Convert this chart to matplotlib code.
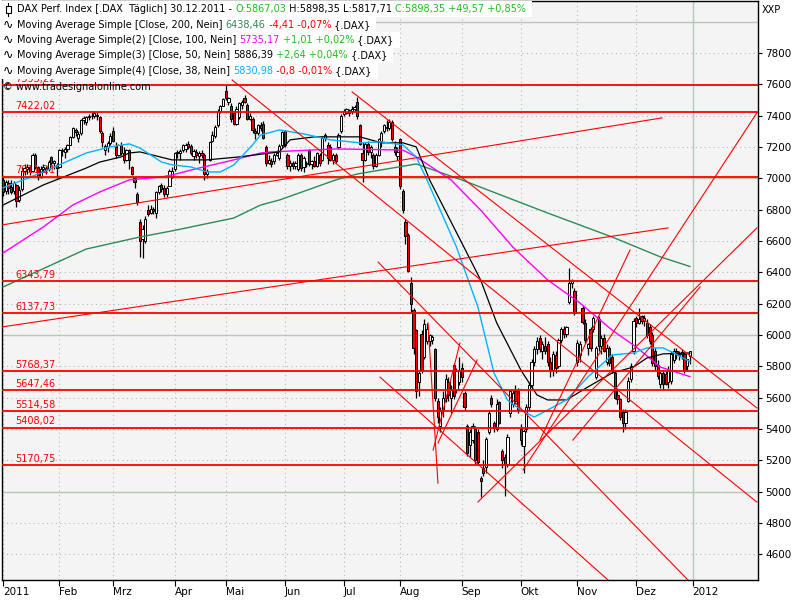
import numpy as np
import matplotlib
matplotlib.use("Agg")
import matplotlib.pyplot as plt
from matplotlib.patches import Rectangle
from matplotlib.lines import Line2D

# daily candles 2011 (open, high, low, close)
jan = [(6990,7010,6890,6915),(6920,6990,6900,6975),(6970,6990,6900,6940),(6945,6990,6900,6915),
       (6920,6985,6900,6970),(6960,6965,6820,6855),(6860,6950,6850,6925),(6930,7070,6920,7050),
       (7050,7090,7020,7065),(7060,7090,7030,7075),(7070,7085,7020,7040),(7045,7160,7040,7150),
       (7150,7160,7060,7075),(7070,7080,6990,7010),(7010,7080,7000,7060),(7060,7090,7040,7070),
       (7065,7080,7030,7055),(7060,7120,7050,7105),(7135,7145,7080,7095),(7100,7120,7060,7110),
       (7085,7100,7000,7065)]
feb = [(7070,7190,7065,7180),(7180,7195,7140,7175),(7170,7200,7130,7185),(7185,7220,7170,7215),
       (7215,7270,7210,7265),(7265,7330,7260,7320),(7310,7320,7270,7295),(7260,7300,7230,7285),
       (7290,7380,7280,7370),(7370,7400,7350,7385),(7360,7400,7340,7390),(7390,7410,7370,7400),
       (7400,7425,7380,7395),(7395,7428,7385,7415),(7405,7425,7370,7395),(7390,7395,7290,7300),
       (7290,7300,7200,7230),(7180,7220,7150,7205),(7200,7240,7170,7225),(7225,7290,7210,7272)]
mar = [(7300,7325,7230,7240),(7200,7230,7130,7150),(7150,7220,7140,7210),(7215,7230,7150,7165),
       (7160,7200,7100,7120),(7120,7190,7110,7180),(7180,7190,7060,7120),(7070,7080,7020,7030),
       (7000,7010,6940,6980),(6900,6910,6830,6850),(6720,6740,6500,6600),(6610,6700,6490,6680),
       (6600,6760,6590,6740),(6800,6830,6760,6775),(6780,6830,6770,6805),(6805,6815,6770,6790),
       (6780,6920,6750,6910),(6910,6960,6900,6950),(6960,6970,6910,6930),(6940,6960,6880,6900),
       (6900,6950,6880,6940),(6950,7060,6950,7050),(7010,7070,7000,7045)]
apr = [(7060,7170,7050,7160),(7160,7180,7130,7170),(7165,7185,7120,7175),(7180,7220,7170,7215),
       (7190,7225,7170,7210),(7220,7240,7190,7200),(7205,7220,7150,7165),(7140,7185,7120,7175),
       (7170,7190,7130,7150),(7140,7175,7100,7160),(7160,7180,7130,7150),(7150,7160,6990,7030),
       (7030,7060,7000,7050),(7120,7240,7110,7230),(7240,7300,7230,7280),(7270,7340,7260,7330),
       (7340,7440,7330,7430),(7430,7470,7420,7460),(7465,7515,7460,7505)]
may = [(7560,7593,7500,7515),(7490,7520,7470,7510),(7460,7480,7360,7380),(7420,7430,7340,7350),
       (7350,7460,7340,7440),(7390,7490,7380,7480),(7470,7500,7440,7490),(7510,7530,7480,7490),
       (7470,7480,7370,7380),(7380,7420,7370,7400),(7380,7390,7290,7310),(7300,7320,7250,7290),
       (7290,7350,7280,7340),(7340,7360,7300,7320),(7350,7365,7250,7260),(7200,7210,7080,7100),
       (7100,7150,7090,7120),(7110,7130,7070,7090),(7110,7160,7090,7150),(7150,7180,7140,7160),
       (7130,7220,7120,7205),(7210,7300,7200,7293)]
jun = [(7300,7310,7200,7215),(7150,7160,7060,7080),(7080,7120,7050,7100),(7100,7110,7060,7080),
       (7080,7110,7060,7095),(7060,7160,7050,7150),(7150,7160,7050,7065),(7070,7140,7040,7130),
       (7090,7110,7070,7100),(7180,7190,7080,7090),(7090,7120,7060,7110),(7110,7140,7070,7080),
       (7080,7170,7070,7160),(7150,7160,7080,7100),(7120,7270,7110,7260),(7260,7290,7240,7280),
       (7210,7230,7090,7130),(7200,7220,7110,7120),(7120,7160,7090,7150),(7150,7160,7100,7110),
       (7200,7290,7190,7280),(7300,7410,7290,7400)]
jul = [(7410,7440,7400,7430),(7420,7450,7410,7440),(7415,7445,7400,7435),(7430,7460,7410,7440),
       (7440,7470,7430,7455),(7490,7520,7380,7400),(7340,7350,7210,7220),(7160,7230,6980,7120),
       (7120,7230,7110,7220),(7220,7240,7150,7170),(7170,7210,7130,7200),(7150,7160,7060,7080),
       (7080,7160,7070,7150),(7150,7260,7140,7250),(7240,7300,7200,7290),(7300,7350,7290,7340),
       (7330,7370,7300,7320),(7320,7380,7310,7360),(7360,7370,7240,7250),(7200,7240,7150,7170),
       (7140,7200,7120,7170)]
aug = [(7250,7260,6930,6950),(6920,6930,6780,6800),(6720,6740,6580,6630),(6640,6650,6400,6410),
       (6330,6370,6150,6200),(6160,6170,5880,5920),(6030,6040,5600,5640),(5700,5780,5610,5760),
       (6010,6030,5760,5780),(5860,6100,5850,6070),(5960,6080,5940,6040),(5960,6010,5930,6000),
       (5970,6000,5940,5990),(5910,5920,5580,5600),(5580,5600,5440,5480),(5420,5540,5380,5520),
       (5520,5640,5480,5600),(5600,5750,5570,5720),(5700,5730,5580,5620),(5600,5680,5500,5650),
       (5810,5820,5590,5610),(5650,5790,5630,5770),(5700,5860,5680,5780)]
sep = [(5790,5820,5700,5730),(5630,5640,5520,5540),(5420,5430,5230,5250),(5300,5400,5220,5380),
       (5330,5440,5310,5420),(5400,5420,5180,5200),(5380,5400,5180,5190),(5090,5100,4966,5070),
       (5150,5200,5100,5120),(5160,5350,5120,5340),(5380,5520,5370,5500),(5600,5620,5540,5560),
       (5440,5450,5380,5410),(5400,5590,5390,5560),(5570,5580,5430,5440),(5260,5270,5150,5200),
       (5220,5240,4970,5180),(5180,5370,5160,5350),(5500,5650,5480,5640),(5560,5650,5540,5630),
       (5640,5680,5560,5580),(5640,5660,5500,5520)]
okt = [(5400,5430,5300,5330),(5290,5400,5120,5390),(5400,5560,5380,5540),(5540,5700,5520,5680),
       (5680,5850,5660,5830),(5830,5930,5800,5910),(5910,5990,5880,5960),(5980,6000,5890,5910),
       (5900,5960,5850,5940),(5930,5990,5880,5900),(5940,5960,5800,5830),(5830,5860,5730,5780),
       (5780,5900,5740,5880),(5870,5900,5760,5790),(5800,5980,5790,5970),(5970,6050,5950,6040),
       (6040,6060,5980,6010),(6010,6060,5990,6050),(6210,6430,6200,6330),(6330,6360,6300,6345),
       (6280,6300,6130,6140)]
nov = [(5830,5970,5800,5950),(5870,5960,5830,5940),(6170,6190,6070,6085),(6080,6100,5950,5970),
       (5920,5950,5870,5940),(6040,6050,5900,5920),(6040,6120,6020,6110),(5730,5930,5720,5920),
       (6100,6120,5900,5930),(5930,6000,5880,5980),(5980,6010,5890,5900),(5830,5940,5810,5920),
       (5920,5930,5800,5820),(5860,5880,5760,5780),(5760,5770,5590,5600),(5620,5660,5560,5590),
       (5590,5600,5460,5480),(5510,5530,5380,5440),(5440,5530,5400,5510),(5580,5730,5570,5710),
       (5720,5820,5700,5800),(5900,6110,5880,6090)]
dez = [(6110,6120,6050,6080),(6080,6170,6070,6100),(6120,6130,6070,6090),(6090,6130,6060,6110),
       (6080,6100,5980,6000),(6050,6070,5940,5960),(6000,6020,5800,5820),(5900,5920,5780,5800),
       (5810,5840,5720,5740),(5690,5770,5660,5760),(5760,5780,5650,5690),(5750,5770,5680,5690),
       (5700,5800,5660,5780),(5710,5900,5690,5880),(5840,5920,5820,5900),(5900,5920,5850,5870),
       (5870,5900,5840,5880),(5880,5910,5850,5890),(5880,5890,5760,5780),(5800,5850,5770,5850),
       (5867,5898,5818,5898)]

month_starts = [0, 21, 41, 64, 83, 105, 127, 148, 171, 193, 214, 236, 257]
month_labels = ["2011", "Feb", "Mrz", "Apr", "Mai", "Jun", "Jul", "Aug", "Sep", "Okt", "Nov", "Dez", "2012"]

# moving averages sampled off the chart (day index, value)
ma200_i = [0, 31, 51, 63, 86, 96, 103, 124, 132, 154, 171, 203, 227, 245, 256]
ma200_v = [6307, 6549, 6626, 6665, 6747, 6830, 6862, 6990, 7028, 7092, 6990, 6779, 6626, 6499, 6438]
ma100_i = [0, 15, 26, 36, 47, 59, 63, 73, 86, 96, 100, 124, 149, 154, 167, 178, 190, 203, 215, 227, 236, 245, 256]
ma100_v = [6524, 6690, 6830, 6913, 6990, 7009, 7022, 7066, 7118, 7162, 7169, 7188, 7181, 7137, 6990,
           6798, 6562, 6352, 6205, 6032, 5924, 5796, 5735]
ma50_i = [0, 15, 31, 36, 44, 47, 51, 63, 76, 88, 103, 107, 116, 133, 141, 149, 154, 159, 171, 178,
          184, 193, 199, 203, 210, 218, 227, 235, 240, 246, 256]
ma50_v = [6830, 6958, 7066, 7104, 7137, 7162, 7169, 7118, 7118, 7137, 7169, 7246, 7265, 7265, 7227,
          7227, 7201, 6990, 6588, 6352, 6078, 5777, 5618, 5586, 5586, 5669, 5758, 5796, 5854, 5880, 5886]
ma38_i = [0, 15, 31, 40, 47, 51, 59, 63, 70, 76, 81, 86, 93, 96, 103, 112, 122, 133, 141, 149, 154,
          158, 169, 177, 183, 188, 193, 198, 203, 210, 218, 225, 227, 235, 240, 246, 250, 256]
ma38_v = [6940, 7041, 7162, 7201, 7220, 7194, 7105, 7086, 7073, 7041, 7041, 7086, 7214, 7277, 7309,
          7284, 7246, 7227, 7233, 7214, 7137, 6990, 6562, 6179, 5758, 5586, 5522, 5477, 5522, 5586,
          5733, 5841, 5873, 5886, 5918, 5918, 5886, 5831]

# horizontal support / resistance levels
levels = [7593.22, 7422.02, 7011.21, 6343.79, 6137.73, 5768.37, 5647.46, 5514.58, 5408.02, 5170.75]

# trend lines (start day, start value, end day, end value)
trendlines = [
    (85.4, 7628, 281.0, 4934),
    (130.1, 7552, 281.0, 5535),
    (-0.4, 6703, 245.6, 7386),
    (-0.4, 6052, 247.9, 6684),
    (177.0, 4935, 281.0, 6684),
    (193.8, 5139, 281.0, 7418),
    (139.8, 6466, 255.3, 4437),
    (140.5, 5732, 225.5, 4437),
    (158.4, 6077, 162.1, 5055),
    (160.3, 5266, 170.3, 5949),
    (162.1, 5311, 176.7, 5841),
    (200.1, 5330, 233.7, 6543),
    (212.4, 5330, 259.8, 6307),
]

ohlc = np.array(jan + feb + mar + apr + may + jun + jul + aug + sep + okt + nov + dez, dtype=float)
o, h, l, c = ohlc.T
days = np.arange(len(ohlc))

FONT = "DejaVu Sans"
plt.rcParams["font.family"] = FONT

fig = plt.figure(figsize=(8, 6), dpi=100)
fig.patch.set_facecolor("white")
ax = fig.add_axes([2/800, 20/600, 756/800, 579/600])
ax.set_facecolor("#f4f4f4")
ax.set_xlim(-0.4, 281.4)
ax.set_ylim(4437, 8132)

# grid
for v in range(4600, 8200, 200):
    if v % 1000 == 0:
        ax.axhline(v, color="#b3c9b3", lw=1.0, zorder=0)
    else:
        ax.axhline(v, color="#b8b8b8", lw=0.8, ls=(0, (1, 3)), zorder=0)
for m in month_starts:
    if m == 257:
        ax.axvline(m, color="#b3c9b3", lw=1.0, zorder=0)
    else:
        ax.axvline(m, color="#b8b8b8", lw=0.8, ls=(0, (1, 3)), zorder=0)

# candles
up = c >= o
ax.vlines(days, l, h, color="black", lw=0.9, zorder=2)
body = np.maximum(np.abs(c - o), 5)
ax.bar(days, body, bottom=np.minimum(o, c), width=0.82,
       color=np.where(up, "white", "#f00000"), edgecolor="black", linewidth=0.7, zorder=3)

# moving averages
ax.plot(ma200_i, ma200_v, color="#2e8b57", lw=1.0, zorder=4)
ax.plot(ma100_i, ma100_v, color="#ff00ff", lw=1.0, zorder=4)
ax.plot(ma50_i, ma50_v, color="black", lw=0.9, zorder=4)
ax.plot(ma38_i, ma38_v, color="#00b4ff", lw=1.0, zorder=4)

# levels
for lev in levels:
    ax.axhline(lev, color="#ff0000", lw=1.3, zorder=5)
    ax.annotate(f"{lev:.2f}".replace(".", ","), (4.5, lev), xytext=(0, 1), textcoords="offset points",
                color="#ff0000", fontsize=7, va="bottom", ha="left", zorder=5)

for x0, y0, x1, y1 in trendlines:
    ax.plot([x0, x1], [y0, y1], color="#ff0000", lw=0.8, zorder=5, clip_on=True)

# axes styling
for s in ax.spines.values():
    s.set_color("black")
    s.set_linewidth(1.0)
ax.yaxis.tick_right()
ax.set_yticks(range(4600, 7801, 200))
ax.set_yticklabels([str(v) for v in range(4600, 7801, 200)])
ax.tick_params(axis="y", direction="out", length=3, width=0.8, pad=2, labelsize=7.5)
ax.set_xticks(month_starts)
ax.set_xticklabels(month_labels)
for lab in ax.get_xticklabels():
    lab.set_ha("left")
ax.tick_params(axis="x", direction="out", length=4, width=0.8, pad=1, labelsize=7.5)

fig.text(762/800, 1 - 10/600, "XXP", fontsize=7, va="center", ha="left")

# legend text rows
rend = fig.canvas.get_renderer()
FS = 7.0

def raw_w(s):
    t = fig.text(0, 0, s, fontsize=FS)
    w = t.get_window_extent(rend).width
    t.remove()
    return w

def tw(s):
    return raw_w(s + "|") - raw_w("|")

def row(y_px, x_px, parts, bg=True):
    full = "".join(p for p, _ in parts)
    if bg:
        fig.patches.append(Rectangle(((x_px - 16)/800, 1 - (y_px + 7.5)/600), (tw(full) + 22)/800, 15/600,
                                     transform=fig.transFigure, facecolor="white", edgecolor="none",
                                     zorder=10))
    prefix = ""
    for txt, col in parts:
        fig.text((x_px + tw(prefix))/800, 1 - y_px/600, txt, color=col, fontsize=FS,
                 va="center", ha="left", zorder=11)
        prefix += txt

GREEN = "#1fbf1f"
RED = "#ff0000"
row(9, 17, [("DAX Perf. Index [.DAX  Täglich] 30.12.2011 - ", "black"), ("O:5867,03", GREEN),
            (" H:5898,35 L:5817,71 ", "black"), ("C:5898,35 +49,57 +0,85%", GREEN)])
row(25, 17, [("Moving Average Simple [Close, 200, Nein] ", "black"), ("6438,46", "#2e8b57"),
             (" -4,41 -0,07%", RED), (" {.DAX}", "black")])
row(40, 17, [("Moving Average Simple(2) [Close, 100, Nein] ", "black"), ("5735,17", "#ff00ff"),
             (" +1,01 +0,02%", GREEN), (" {.DAX}", "black")])
row(55, 17, [("Moving Average Simple(3) [Close, 50, Nein] ", "black"), ("5886,39", "black"),
             (" +2,64 +0,04%", GREEN), (" {.DAX}", "black")])
row(71, 17, [("Moving Average Simple(4) [Close, 38, Nein] ", "black"), ("5830,98", "#00b4ff"),
             (" -0,8 -0,01%", RED), (" {.DAX}", "black")])
for y in (25, 40, 55, 71):
    fig.text(3/800, 1 - y/600, "\u223f", fontsize=FS + 2, va="center", ha="left", zorder=11)
fig.text(3/800, 1 - 87/600, "\u00a9 www.tradesignalonline.com", fontsize=FS, va="center", ha="left", zorder=11)

# candle icon in the first row
fig.add_artist(Line2D([8/800, 8/800], [1 - 3/600, 1 - 16/600], color="black", lw=0.8, zorder=12))
fig.add_artist(Rectangle((5.5/800, 1 - 13/600), 5/800, 7/600, transform=fig.transFigure,
                         facecolor="white", edgecolor="black", lw=0.8, zorder=13))

fig.savefig("out.png", dpi=100)
